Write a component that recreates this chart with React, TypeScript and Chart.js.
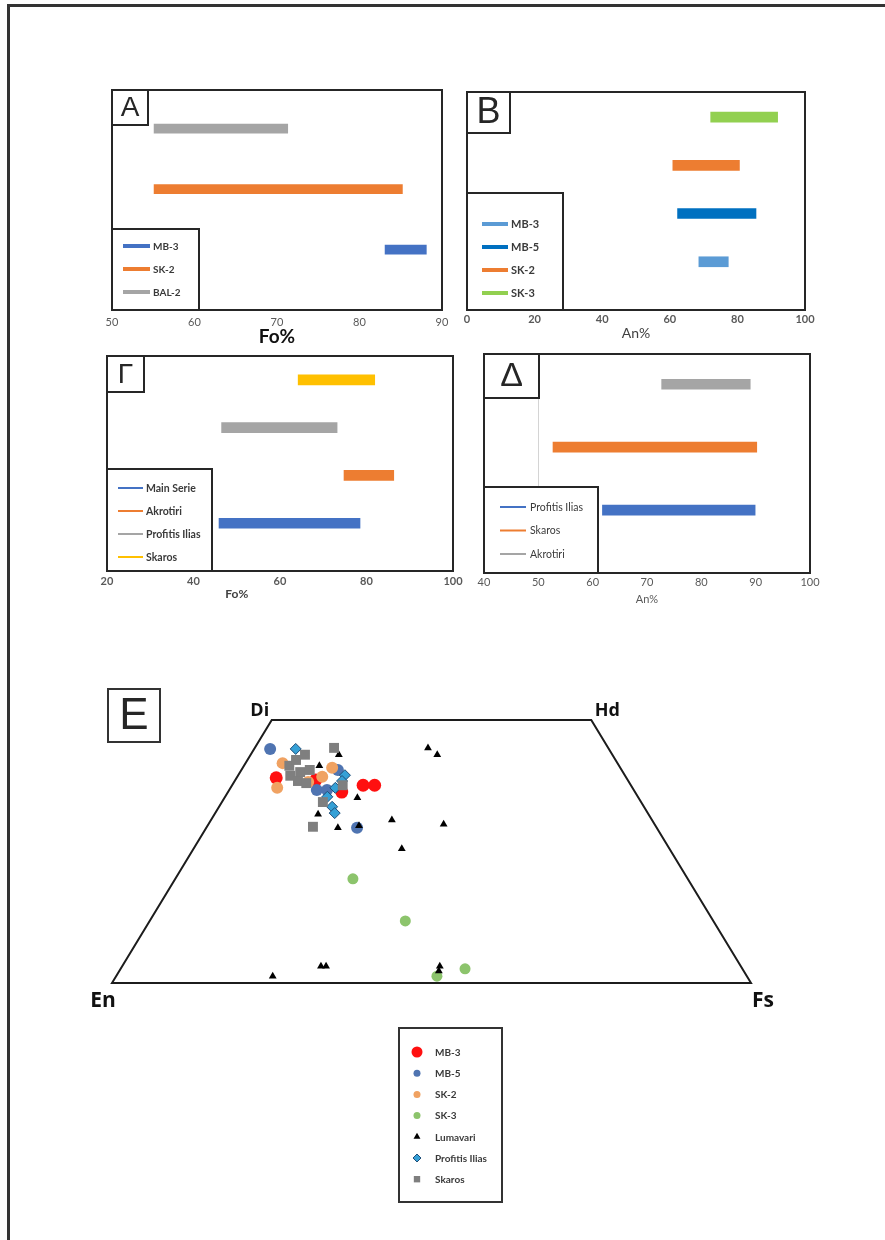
import React, { useEffect, useRef } from 'react';
import { Chart, registerables } from 'chart.js';
import { drawPoint } from 'chart.js/helpers';

Chart.register(...registerables);

const TEXT_FONT = 'Lato, "Open Sans", sans-serif';
const TAG_FONT = '"Liberation Sans", Arial, sans-serif';
const FRAME = '#262626';
const LEGEND_TEXT = '#3a3a3a';

// ---- A: olivine Fo% ranges ----
const A_SAMPLES = ['MB-3', 'SK-2', 'BAL-2'];
const A_MIN = [83.1, 55.1, 55.1];
const A_MAX = [88.1, 85.2, 71.3];
const A_COLORS = ['#4472C4', '#ED7D31', '#A5A5A5'];
const A_TICKS = [50, 60, 70, 80, 90];

// ---- B: plagioclase An% ranges ----
const B_SAMPLES = ['MB-3', 'MB-5', 'SK-2', 'SK-3'];
const B_MIN = [68.6, 62.3, 60.9, 72.1];
const B_MAX = [77.3, 85.5, 80.6, 91.9];
const B_COLORS = ['#5B9BD5', '#0070C0', '#ED7D31', '#92D050'];
const B_TICKS = [0, 20, 40, 60, 80, 100];

// ---- Γ: olivine Fo% by unit ----
const G_UNITS = ['Main Serie', 'Akrotiri', 'Profitis Ilias', 'Skaros'];
const G_MIN = [45.9, 74.8, 46.5, 64.2];
const G_MAX = [78.5, 86.3, 73.2, 81.9];
const G_COLORS = ['#4472C4', '#ED7D31', '#A5A5A5', '#FFC000'];
const G_TICKS = [20, 40, 60, 80, 100];

// ---- Δ: plagioclase An% by unit ----
const D_UNITS = ['Profitis Ilias', 'Skaros', 'Akrotiri'];
const D_MIN = [61.8, 52.7, 72.7];
const D_MAX = [89.9, 90.2, 89.0];
const D_COLORS = ['#4472C4', '#ED7D31', '#A5A5A5'];
const D_TICKS = [40, 50, 60, 70, 80, 90, 100];

// ---- E: pyroxene compositions (Wo, Fs mol%) ----
const MB3_WO = [39.0, 38.6, 36.3, 37.6, 37.6];
const MB3_FS = [6.2, 12.6, 17.8, 20.5, 22.3];
const MB5_WO = [44.5, 36.7, 36.7, 29.5, 40.5];
const MB5_FS = [2.5, 13.7, 15.3, 23.6, 15.1];
const SK2_WO = [41.8, 37.1, 38.2, 39.2, 40.9];
const SK2_FS = [5.8, 7.3, 11.6, 13.3, 14.0];
const SK3_WO = [19.8, 11.8, 1.3, 2.7];
const SK3_FS = [27.8, 40.0, 50.2, 53.9];
const LUM_WO = [43.4, 44.7, 43.4, 41.3, 35.2, 32.1, 29.5, 29.9, 31.0, 30.2, 25.5, 1.3, 3.2, 3.2, 3.2, 2.3];
const LUM_FS = [13.8, 27.1, 29.2, 11.8, 20.8, 16.2, 20.6, 23.7, 28.3, 36.8, 32.6, 24.5, 31.1, 31.9, 49.7, 50.0];
const PRO_WO = [44.5, 39.5, 38.4, 37.1, 35.4, 33.5, 32.3];
const PRO_FS = [6.5, 16.7, 16.8, 16.4, 16.0, 17.7, 18.7];
const SKA_WO = [44.7, 41.3, 42.4, 43.4, 40.1, 40.5, 39.4, 38.4, 38.0, 37.6, 34.4, 29.7];
const SKA_FS = [12.4, 7.1, 7.6, 8.5, 9.4, 10.7, 8.2, 9.9, 11.4, 17.3, 15.8, 16.6];

const E_NAMES = ['MB-3', 'MB-5', 'SK-2', 'SK-3', 'Lumavari', 'Profitis Ilias', 'Skaros'];
const E_WO = [MB3_WO, MB5_WO, SK2_WO, SK3_WO, LUM_WO, PRO_WO, SKA_WO];
const E_FS = [MB3_FS, MB5_FS, SK2_FS, SK3_FS, LUM_FS, PRO_FS, SKA_FS];

// Quadrilateral corners: En, Di, Hd, Fs  (x = Fs + Wo/2, y = Wo)
const QUAD_LABELS = ['En', 'Di', 'Hd', 'Fs'];
const QUAD_FS = [0, 0, 50, 100];
const QUAD_WO = [0, 50, 50, 0];

const E_STYLES = [
  { shape: 'circle', r: 6.5, fill: '#FF1010', border: '#FF1010', bw: 0, lr: 5.5 },
  { shape: 'circle', r: 6, fill: '#4F74B1', border: '#4F74B1', bw: 0, lr: 3.5 },
  { shape: 'circle', r: 6, fill: '#F0A262', border: '#F0A262', bw: 0, lr: 3.5 },
  { shape: 'circle', r: 5.5, fill: '#8CC46C', border: '#8CC46C', bw: 0, lr: 3.5 },
  { shape: 'triangle', r: 4.5, fill: '#000000', border: '#000000', bw: 0, lr: 4 },
  { shape: 'rectRot', r: 5.5, fill: '#35A0D6', border: '#1F4E79', bw: 1, lr: 4 },
  { shape: 'rect', r: 7, fill: '#7F7F7F', border: '#7F7F7F', bw: 0, lr: 4.5 },
];

const PAD_X = 20;
const PAD_TOP = 6;
const AXIS_H = 45;

const panelDecor = {
  id: 'panelDecor',
  afterDraw(chart: any, _args: any, o: any) {
    const { ctx, chartArea: a } = chart;
    const xs = chart.scales.x;
    ctx.save();
    ctx.lineWidth = 2;
    ctx.strokeStyle = FRAME;
    ctx.strokeRect(a.left, a.top, a.right - a.left, a.bottom - a.top);

    // legend box in the lower-left corner
    const L = o.legend;
    const lx = a.left;
    const ly = a.bottom - L.h;
    ctx.fillStyle = '#fff';
    ctx.fillRect(lx, ly, L.w, L.h);
    ctx.strokeRect(lx, ly, L.w, L.h);
    ctx.font = L.font;
    ctx.textAlign = 'left';
    ctx.textBaseline = 'middle';
    o.names.forEach((n: string, i: number) => {
      const y = ly + L.first + i * L.step;
      ctx.strokeStyle = o.colors[i];
      ctx.lineWidth = L.lw;
      ctx.beginPath();
      ctx.moveTo(lx + L.sx, y);
      ctx.lineTo(lx + L.sx + L.sw, y);
      ctx.stroke();
      ctx.fillStyle = LEGEND_TEXT;
      ctx.fillText(n, lx + L.tx, y + 0.5);
    });

    // panel letter
    ctx.lineWidth = 2;
    ctx.strokeStyle = FRAME;
    ctx.fillStyle = '#fff';
    ctx.fillRect(a.left, a.top, o.tagW, o.tagH);
    ctx.strokeRect(a.left, a.top, o.tagW, o.tagH);
    ctx.fillStyle = '#262626';
    ctx.font = o.tagFont;
    ctx.textAlign = 'center';
    ctx.textBaseline = 'middle';
    ctx.fillText(o.tag, a.left + o.tagW / 2, a.top + o.tagH / 2 + 1);

    // axis title
    ctx.font = o.titleFont;
    ctx.fillStyle = o.titleColor;
    ctx.fillText(o.title, xs.getPixelForValue(o.titleAt), a.bottom + o.titleDy);
    ctx.restore();
  },
};

function RangePanel(p: any) {
  const ref = useRef<HTMLCanvasElement>(null);
  const { l, t, r, b } = p.frame;
  const width = r - l + 2 * PAD_X;
  const height = b - t + PAD_TOP + AXIS_H;
  useEffect(() => {
    const chart = new Chart(ref.current as HTMLCanvasElement, {
      type: 'bar',
      data: {
        datasets: [
          {
            data: p.names.map((_n: string, i: number) => ({ x: [p.lows[i], p.highs[i]], y: i + 1 })),
            backgroundColor: p.colors,
            borderWidth: 0,
            barThickness: p.thickness,
          } as any,
        ],
      },
      options: {
        indexAxis: 'y',
        responsive: false,
        animation: false,
        devicePixelRatio: 1,
        layout: { padding: { left: PAD_X, right: PAD_X, top: PAD_TOP, bottom: 0 } },
        scales: {
          x: {
            type: 'linear',
            min: p.ticks[0],
            max: p.ticks[p.ticks.length - 1],
            afterBuildTicks: (s: any) => {
              s.ticks = p.ticks.map((v: number) => ({ value: v }));
            },
            afterFit: (s: any) => {
              s.height = AXIS_H;
            },
            grid: {
              display: p.gridAt !== undefined,
              drawTicks: false,
              lineWidth: 1,
              color: (c: any) => (c.tick && c.tick.value === p.gridAt ? '#d4d4d4' : 'rgba(0,0,0,0)'),
            },
            border: { display: false },
            ticks: { padding: p.tickPad, color: '#595959', font: p.tickFont },
          },
          y: { type: 'linear', display: false, offset: false, min: 0, max: p.yMax },
        },
        plugins: {
          legend: { display: false },
          tooltip: { enabled: false },
          panelDecor: {
            names: p.names,
            colors: p.colors,
            legend: p.legend,
            tag: p.tag,
            tagW: p.tagW,
            tagH: p.tagH,
            tagFont: p.tagFont,
            title: p.title,
            titleAt: p.titleAt,
            titleFont: p.titleFont,
            titleColor: p.titleColor,
            titleDy: p.titleDy,
          },
        } as any,
      },
      plugins: [panelDecor],
    });
    return () => chart.destroy();
  }, []);
  return (
    <canvas
      ref={ref}
      width={width}
      height={height}
      style={{ position: 'absolute', left: l - PAD_X, top: t - PAD_TOP, width, height }}
    />
  );
}

// ---- pyroxene quadrilateral ----
const E_LEFT = 80;
const E_TOP = 680;
const E_W = 720;
const E_H = 540;

const quadDecor = {
  id: 'quadDecor',
  beforeDatasetsDraw(chart: any) {
    const { ctx } = chart;
    const xs = chart.scales.x;
    const ys = chart.scales.y;
    ctx.save();
    ctx.lineWidth = 2;
    ctx.strokeStyle = '#1c1c1c';
    ctx.beginPath();
    QUAD_FS.forEach((fs, i) => {
      const px = xs.getPixelForValue(fs + QUAD_WO[i] / 2);
      const py = ys.getPixelForValue(QUAD_WO[i]);
      if (i === 0) ctx.moveTo(px, py);
      else ctx.lineTo(px, py);
    });
    ctx.closePath();
    ctx.stroke();

    const offs = [
      [-9, 18, 21],
      [-12, -9, 18],
      [16, -9, 18],
      [12, 18, 21],
    ];
    ctx.fillStyle = '#111';
    ctx.textAlign = 'center';
    ctx.textBaseline = 'middle';
    QUAD_LABELS.forEach((lab, i) => {
      const px = xs.getPixelForValue(QUAD_FS[i] + QUAD_WO[i] / 2);
      const py = ys.getPixelForValue(QUAD_WO[i]);
      ctx.font = `bold ${offs[i][2]}px "Open Sans", "Liberation Sans", sans-serif`;
      ctx.fillText(lab, px + offs[i][0], py + offs[i][1]);
    });
    ctx.restore();
  },
  afterDraw(chart: any) {
    const { ctx } = chart;
    ctx.save();
    // panel letter
    const tx = 108 - E_LEFT;
    const ty = 689 - E_TOP;
    ctx.lineWidth = 2;
    ctx.strokeStyle = '#333';
    ctx.strokeRect(tx, ty, 52, 53);
    ctx.fillStyle = '#262626';
    ctx.font = `44px ${TAG_FONT}`;
    ctx.textAlign = 'center';
    ctx.textBaseline = 'middle';
    ctx.fillText('E', tx + 26, ty + 28);

    // legend
    const lx = 399 - E_LEFT;
    const ly = 1028 - E_TOP;
    ctx.lineWidth = 2;
    ctx.strokeStyle = '#333';
    ctx.strokeRect(lx, ly, 103, 174);
    ctx.font = `bold 10px ${TEXT_FONT}`;
    ctx.textAlign = 'left';
    E_NAMES.forEach((n, i) => {
      const st = E_STYLES[i];
      const y = ly + 24 + i * 21.2;
      ctx.fillStyle = st.fill;
      ctx.strokeStyle = st.border;
      ctx.lineWidth = st.bw;
      drawPoint(ctx, { pointStyle: st.shape as any, radius: st.lr, rotation: 0, borderWidth: st.bw }, lx + 18, y);
      ctx.fillStyle = LEGEND_TEXT;
      ctx.fillText(n, lx + 36, y + 0.5);
    });
    ctx.restore();
  },
};

function PyroxenePanel() {
  const ref = useRef<HTMLCanvasElement>(null);
  useEffect(() => {
    const datasets = E_NAMES.map((name, i) => {
      const st = E_STYLES[i];
      return {
        label: name,
        data: E_WO[i].map((wo, k) => ({ x: E_FS[i][k] + wo / 2, y: wo })),
        pointStyle: st.shape,
        pointRadius: st.r,
        backgroundColor: st.fill,
        borderColor: st.border,
        borderWidth: st.bw,
        order: E_NAMES.length - i,
        clip: false,
      } as any;
    });
    const chart = new Chart(ref.current as HTMLCanvasElement, {
      type: 'scatter',
      data: { datasets },
      options: {
        responsive: false,
        animation: false,
        devicePixelRatio: 1,
        layout: { padding: { left: 112 - E_LEFT, right: E_LEFT + E_W - 751, top: 720 - E_TOP, bottom: E_TOP + E_H - 983 } },
        scales: {
          x: { type: 'linear', display: false, min: 0, max: 100 },
          y: { type: 'linear', display: false, min: 0, max: 50 },
        },
        plugins: { legend: { display: false }, tooltip: { enabled: false } },
      },
      plugins: [quadDecor],
    });
    return () => chart.destroy();
  }, []);
  return (
    <canvas
      ref={ref}
      width={E_W}
      height={E_H}
      style={{ position: 'absolute', left: E_LEFT, top: E_TOP, width: E_W, height: E_H }}
    />
  );
}

export default function App() {
  return (
    <div style={{ position: 'absolute', left: 0, top: 0, width: 885, height: 1240, background: '#fff', overflow: 'hidden' }}>
      <div
        style={{
          position: 'absolute',
          left: 7,
          top: 4,
          width: 878,
          height: 1236,
          boxSizing: 'border-box',
          borderTop: '3px solid #333',
          borderLeft: '3px solid #333',
        }}
      />
      <RangePanel
        frame={{ l: 112, t: 90, r: 442, b: 310 }}
        names={A_SAMPLES}
        lows={A_MIN}
        highs={A_MAX}
        colors={A_COLORS}
        ticks={A_TICKS}
        yMax={3.64}
        thickness={9}
        tickPad={6}
        tickFont={{ family: TEXT_FONT, size: 11 }}
        title="Fo%"
        titleAt={70}
        titleFont={`bold 19px ${TEXT_FONT}`}
        titleColor="#111"
        titleDy={27}
        tag="A"
        tagW={36}
        tagH={35}
        tagFont={`28px ${TAG_FONT}`}
        legend={{ w: 87, h: 81, first: 17, step: 23, sx: 11, sw: 27, lw: 4, tx: 41, font: `bold 10px ${TEXT_FONT}` }}
      />
      <RangePanel
        frame={{ l: 467, t: 92, r: 805, b: 310 }}
        names={B_SAMPLES}
        lows={B_MIN}
        highs={B_MAX}
        colors={B_COLORS}
        ticks={B_TICKS}
        yMax={4.52}
        thickness={10}
        tickPad={3}
        tickFont={{ family: TEXT_FONT, size: 11, weight: 'bold' }}
        title="An%"
        titleAt={50}
        titleFont={`14px ${TEXT_FONT}`}
        titleColor="#404040"
        titleDy={23}
        tag="B"
        tagW={43}
        tagH={41}
        tagFont={`36px ${TAG_FONT}`}
        legend={{ w: 96, h: 117, first: 31, step: 23, sx: 15, sw: 26, lw: 4, tx: 44, font: `bold 11px ${TEXT_FONT}` }}
      />
      <RangePanel
        frame={{ l: 107, t: 356, r: 453, b: 571 }}
        names={G_UNITS}
        lows={G_MIN}
        highs={G_MAX}
        colors={G_COLORS}
        ticks={G_TICKS}
        yMax={4.5}
        thickness={10}
        tickPad={4}
        tickFont={{ family: TEXT_FONT, size: 11, weight: 'bold' }}
        title="Fo%"
        titleAt={50}
        titleFont={`bold 12px ${TEXT_FONT}`}
        titleColor="#404040"
        titleDy={23}
        tag="Γ"
        tagW={37}
        tagH={36}
        tagFont={`28px ${TAG_FONT}`}
        legend={{ w: 105, h: 102, first: 19, step: 23, sx: 11, sw: 25, lw: 2, tx: 39, font: `bold 10.5px ${TEXT_FONT}` }}
      />
      <RangePanel
        frame={{ l: 484, t: 354, r: 810, b: 573 }}
        names={D_UNITS}
        lows={D_MIN}
        highs={D_MAX}
        colors={D_COLORS}
        ticks={D_TICKS}
        yMax={3.48}
        thickness={10}
        tickPad={3}
        gridAt={50}
        tickFont={{ family: TEXT_FONT, size: 11 }}
        title="An%"
        titleAt={70}
        titleFont={`11px ${TEXT_FONT}`}
        titleColor="#595959"
        titleDy={26}
        tag="Δ"
        tagW={55}
        tagH={44}
        tagFont={`34px ${TAG_FONT}`}
        legend={{ w: 114, h: 86, first: 20, step: 23.5, sx: 16, sw: 26, lw: 2, tx: 46, font: `10.5px ${TEXT_FONT}` }}
      />
      <PyroxenePanel />
    </div>
  );
}
